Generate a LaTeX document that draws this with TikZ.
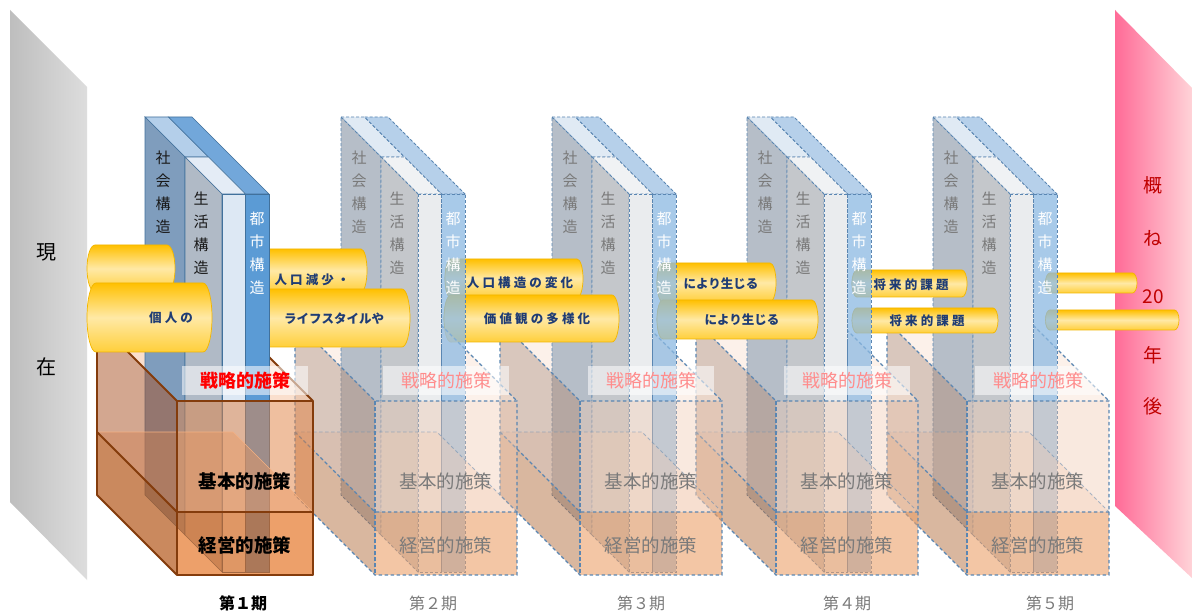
\documentclass[tikz,border=0pt]{standalone}
\usepackage{fontspec}
\setmainfont{Noto Sans CJK JP}
\newfontfamily\tubefont[LetterSpace=25]{Noto Sans CJK JP}
\newfontfamily\tubefontnarrow{Noto Sans CJK JP}

% panels
\definecolor{panelgrayL}{HTML}{BEBEBE}
\definecolor{panelgrayR}{HTML}{DDDDDD}
\definecolor{panelpinkL}{HTML}{FF6B97}
\definecolor{panelpinkR}{HTML}{FFD3D8}
\definecolor{laterred}{HTML}{C00000}
% tubes
\definecolor{tubetop}{HTML}{FFC000}
\definecolor{tubemid}{HTML}{FFE9A6}
\definecolor{tubebot}{HTML}{FFCF3A}
\definecolor{tubeline}{HTML}{F2B600}
\definecolor{tubeinkc}{HTML}{1F3C74}
% structure slabs, first period
\definecolor{skF}{HTML}{7F9DBD}
\definecolor{skT}{HTML}{B4CFEA}
\definecolor{sgF}{HTML}{B0BAC6}
\definecolor{sgT}{HTML}{E4ECF6}
\definecolor{sgR}{HTML}{DDE8F4}
\definecolor{tsT}{HTML}{72A7DA}
\definecolor{tsR}{HTML}{5B9BD5}
\definecolor{bookedge}{HTML}{41719C}
% structure slabs, later periods
\definecolor{skFf}{HTML}{B6BEC8}
\definecolor{skTf}{HTML}{E0EAF4}
\definecolor{sgFf}{HTML}{C4C7CB}
\definecolor{sgTf}{HTML}{F0F2F4}
\definecolor{sgRf}{HTML}{EAECEE}
\definecolor{tsTf}{HTML}{B6D0EA}
\definecolor{tsRf}{HTML}{8CB9E2}
\definecolor{dashedge}{HTML}{5A86B2}
% policy box
\definecolor{boxtopA}{HTML}{F8CBAD}
\definecolor{boxmidA}{HTML}{F4B183}
\definecolor{boxleftUA}{HTML}{A95123}
\definecolor{boxleftLA}{HTML}{B4581A}
\definecolor{boxfrontUA}{HTML}{E18141}
\definecolor{boxfrontLA}{HTML}{E16107}
\definecolor{boxedgeA}{HTML}{843C0C}
\definecolor{boxtopF}{HTML}{FBE5D6}
\definecolor{boxleftUF}{HTML}{B5917D}
\definecolor{boxleftLF}{HTML}{B57141}
\definecolor{boxfrontUF}{HTML}{F0C8AF}
\definecolor{boxfrontLF}{HTML}{EBA069}
\definecolor{fadedtext}{HTML}{7A7A7A}
\definecolor{fadedred}{HTML}{FF8C8C}

\tikzset{
  every node/.style={inner sep=0pt},
  slabtext/.style={align=center, font=\fontsize{15}{23}\selectfont},
  tubebody/.style={top color=tubetop, bottom color=tubebot, middle color=tubemid,
    draw=tubeline, line width=0.7},
  tubeend/.style={fill=tubemid, draw=tubeline!60!gray, line width=0.6},
  tubeink/.style={text=tubeinkc, font=\tubefont\fontsize{12.5}{12.5}\selectfont\bfseries},
  tubeinknarrow/.style={text=tubeinkc, font=\tubefontnarrow\fontsize{12.5}{12.5}\selectfont\bfseries},
  paneltext/.style={font=\fontsize{20}{20}\selectfont},
  latertext/.style={text=laterred, font=\fontsize{19}{19}\selectfont},
  solidlook/.style={
    sktop/.style={fill=skT, draw=bookedge, line width=0.7},
    tstop/.style={fill=tsT, draw=bookedge, line width=0.7},
    skface/.style={fill=skF, draw=bookedge, line width=0.7},
    sgtop/.style={fill=sgT, draw=bookedge, line width=0.7},
    sgface/.style={fill=sgF, draw=bookedge, line width=0.7},
    sgfront/.style={fill=sgR, draw=bookedge, line width=0.7},
    tsfront/.style={fill=tsR, draw=bookedge, line width=0.7},
    bookink/.style={text=black!90},
    cityink/.style={text=white},
    boxtop/.style={fill=boxtopA, fill opacity=0.6},
    boxmid/.style={fill=boxmidA, fill opacity=0.45},
    boxleftU/.style={fill=boxleftUA, fill opacity=0.5},
    boxleftL/.style={fill=boxleftLA, fill opacity=0.7},
    boxfrontU/.style={fill=boxfrontUA, fill opacity=0.5},
    boxfrontL/.style={fill=boxfrontLA, fill opacity=0.6},
    boxedge/.style={draw=boxedgeA, line width=1.8, line join=round},
    boxedgefaint/.style={draw=boxmidA, line width=0.6},
    stratink/.style={text=red, font=\fontsize{18}{18}\selectfont\bfseries},
    policyink/.style={text=black, font=\fontsize{18.5}{18.5}\selectfont\bfseries},
  },
  fadedlook/.style={
    sktop/.style={fill=skTf, draw=dashedge, line width=0.9, dash pattern=on 3pt off 2pt},
    tstop/.style={fill=tsTf, draw=dashedge, line width=0.9, dash pattern=on 3pt off 2pt},
    skface/.style={fill=skFf, draw=dashedge, line width=0.9, dash pattern=on 3pt off 2pt},
    sgtop/.style={fill=sgTf, draw=dashedge, line width=0.9, dash pattern=on 3pt off 2pt},
    sgface/.style={fill=sgFf, draw=dashedge, line width=0.9, dash pattern=on 3pt off 2pt},
    sgfront/.style={fill=sgRf, draw=dashedge, line width=0.9, dash pattern=on 3pt off 2pt},
    tsfront/.style={fill=tsRf, fill opacity=0.75, draw=dashedge, line width=0.9,
      dash pattern=on 3pt off 2pt},
    bookink/.style={text=fadedtext},
    cityink/.style={text=white},
    boxtop/.style={fill=boxtopF, fill opacity=0.5},
    boxmid/.style={fill=boxtopA, fill opacity=0.3},
    boxleftU/.style={fill=boxleftUF, fill opacity=0.5},
    boxleftL/.style={fill=boxleftLF, fill opacity=0.5},
    boxfrontU/.style={fill=boxfrontUF, fill opacity=0.4},
    boxfrontL/.style={fill=boxfrontLF, fill opacity=0.6},
    boxedge/.style={draw=dashedge, line width=1.1, dash pattern=on 3.5pt off 2.5pt},
    boxedgefaint/.style={draw=dashedge, draw opacity=0.5, line width=0.8,
      dash pattern=on 3.5pt off 2.5pt},
    stratink/.style={text=fadedred, font=\fontsize{18}{18}\selectfont},
    policyink/.style={text=fadedtext, font=\fontsize{18.5}{18.5}\selectfont},
  },
  periodlabel/.style={font=\fontsize{16}{16}\selectfont},
}

% one yellow tube: left centre x, right end x, top y, bottom y, cap radius
\newcommand\tubeseg[5]{%
  \path[tubebody] (#1,#3) -- ({#2-#5},#3)
    arc[start angle=-90, end angle=90, x radius=#5, y radius={(#4-#3)/2}]
    -- (#1,#4)
    arc[start angle=90, end angle=270, x radius=#5, y radius={(#4-#3)/2}]
    -- cycle;
}
% visible rim at the far end of a tube
\newcommand\tuberim[4]{%
  \path[tubeend] (#1,{(#2+#3)/2}) ellipse[x radius=#4, y radius={(#3-#2)/2}];
}

% one planning period: slab shift, box front-left x, box width, id
\newcommand\periodunit[4]{%
  % top face of the policy box
  \fill[boxtop] ({#2-80},321) -- ({#2+#3-80},321) -- ({#2+#3},401) -- (#2,401) -- cycle;
  \draw[boxedge] ({#2+#3-80},321) -- ({#2+#3},401);
  \draw[boxedge] ({#2-80},321) -- ({#2+#3-80},321);
  % the three structure slabs
  \begin{scope}[xshift=#1pt]
    \filldraw[sktop] (145,117) -- (168.5,117) -- (208.5,157) -- (185,157) -- cycle;
    \filldraw[tstop] (168.5,117) -- (192,117) -- (269,194) -- (245.5,194) -- cycle;
    \filldraw[skface] (145,117) -- (185,157) -- (185,535) -- (145,495) -- cycle;
    \filldraw[sgtop] (185,157) -- (208.5,157) -- (245.5,194) -- (222,194) -- cycle;
    \filldraw[sgface] (185,157) -- (222,194) -- (222,572) -- (185,535) -- cycle;
    \filldraw[sgfront] (222,194) rectangle (245.5,572);
    \filldraw[tsfront] (245.5,194) rectangle (269,572);
    \node[slabtext, bookink] (sk#4) at (163,192) {社\\会\\構\\造};
    \node[slabtext, bookink] (sg#4) at (201,233) {生\\活\\構\\造};
    \node[slabtext, cityink] (ts#4) at (257,253) {都\\市\\構\\造};
  \end{scope}
  % translucent faces of the policy box
  \fill[boxmid] ({#2-80},432) -- ({#2+#3-80},432) -- ({#2+#3},512) -- (#2,512) -- cycle;
  \fill[boxleftU] ({#2-80},321) -- (#2,401) -- (#2,512) -- ({#2-80},432) -- cycle;
  \fill[boxleftL] ({#2-80},432) -- (#2,512) -- (#2,575) -- ({#2-80},495) -- cycle;
  \fill[boxfrontU] (#2,401) rectangle ({#2+#3},512);
  \fill[boxfrontL] (#2,512) rectangle ({#2+#3},575);
  % box edges
  \draw[boxedgefaint] ({#2-80},432) -- ({#2+#3-80},432) -- ({#2+#3},512);
  \draw[boxedge] ({#2-80},321) -- (#2,401) -- ({#2+#3},401) -- ({#2+#3},575)
    -- (#2,575) -- ({#2-80},495) -- cycle;
  \draw[boxedge] (#2,401) -- (#2,575);
  \draw[boxedge] ({#2-80},432) -- (#2,512) -- ({#2+#3},512);
  % layer labels
  \fill[white, fill opacity=0.55] ({#2+#3/2-63},366) rectangle ({#2+#3/2+63},395);
  \node[stratink] (sr#4) at ({#2+#3/2},381) {戦略的施策};
  \node[policyink] (kh#4) at ({#2+#3/2},481) {基本的施策};
  \node[policyink] (ke#4) at ({#2+#3/2},545) {経営的施策};
}

\begin{document}
\begin{tikzpicture}[x=1pt, y=-1pt]
  \useasboundingbox (0,0) rectangle (1192,612);
  \fill[white] (0,0) rectangle (1192,612);

  % present and horizon panels
  \shade[left color=panelgrayL, right color=panelgrayR]
    (10,10) -- (87,87) -- (87,580) -- (10,502) -- cycle;
  \node[paneltext] (now1) at (46,252) {現};
  \node[paneltext] (now2) at (46,367) {在};
  \shade[left color=panelpinkL, right color=panelpinkR]
    (1115,10) -- (1192,88) -- (1192,578) -- (1115,506) -- cycle;
  \node[latertext] (yr1) at (1153,185) {概};
  \node[latertext] (yr2) at (1153,238) {ね};
  \node[latertext] (yr3) at (1153,297) {20};
  \node[latertext] (yr4) at (1153,355) {年};
  \node[latertext] (yr5) at (1153,406) {後};

  % period 5 towards the horizon
  \tuberim{1050}{273}{293}{4.5}
  \tubeseg{1050}{1137}{273}{293}{4.5}
  \tuberim{1050}{310}{330}{4.5}
  \tubeseg{1050}{1179}{310}{330}{4.5}
  \begin{scope}[fadedlook]
    \periodunit{788}{967}{142}{5}
  \end{scope}

  % from period 4
  \tuberim{857}{270}{297}{5}
  \tubeseg{857}{967}{270}{297}{5}
  \tuberim{857}{308}{333}{5}
  \tubeseg{857}{998}{308}{333}{5}
  \node[tubeink] (t4a) at (911,285) {将来的課題};
  \node[tubeink] (t4b) at (927,321) {将来的課題};
  \begin{scope}[fadedlook]
    \periodunit{602}{776}{142}{4}
  \end{scope}

  % from period 3
  \tuberim{663}{263}{302}{6}
  \tubeseg{663}{776}{263}{302}{6}
  \tuberim{663}{300}{339}{6}
  \tubeseg{663}{818}{300}{339}{6}
  \node[tubeinknarrow] (t3a) at (721,284) {により生じる};
  \node[tubeinknarrow] (t3b) at (742,320) {により生じる};
  \begin{scope}[fadedlook]
    \periodunit{407}{580}{142}{3}
  \end{scope}

  % from period 2
  \tuberim{451}{259}{298}{6}
  \tubeseg{451}{583}{259}{298}{6}
  \tuberim{451}{295}{342}{7}
  \tubeseg{451}{619}{295}{342}{7}
  \node[tubeink] (t2a) at (520,283) {人口構造の変化};
  \node[tubeink] (t2b) at (537,319) {価値観の多様化};
  \begin{scope}[fadedlook]
    \periodunit{196}{375}{142}{2}
  \end{scope}

  % from period 1
  \tuberim{256}{249}{292}{6}
  \tubeseg{256}{367}{249}{292}{6}
  \tuberim{256}{289}{347}{8}
  \tubeseg{256}{410}{289}{347}{8}
  \node[tubeink] (t1a) at (312,280) {人口減少・};
  \node[tubeinknarrow] (t1b) at (334,319) {ライフスタイルや};
  \begin{scope}[solidlook]
    \periodunit{0}{177}{136}{1}
  \end{scope}

  % from the present
  \tubeseg{95}{175}{245}{292}{8}
  \tubeseg{96}{212}{283}{352}{9}
  \node[tubeink] (t0b) at (171,318) {個人の};

  % period captions
  \node[periodlabel, font=\fontsize{16}{16}\selectfont\bfseries] (p1) at (243,603) {第１期};
  \node[periodlabel, text=fadedtext] (p2) at (433,603) {第２期};
  \node[periodlabel, text=fadedtext] (p3) at (641,603) {第３期};
  \node[periodlabel, text=fadedtext] (p4) at (847,603) {第４期};
  \node[periodlabel, text=fadedtext] (p5) at (1050,603) {第５期};
\end{tikzpicture}
\end{document}
